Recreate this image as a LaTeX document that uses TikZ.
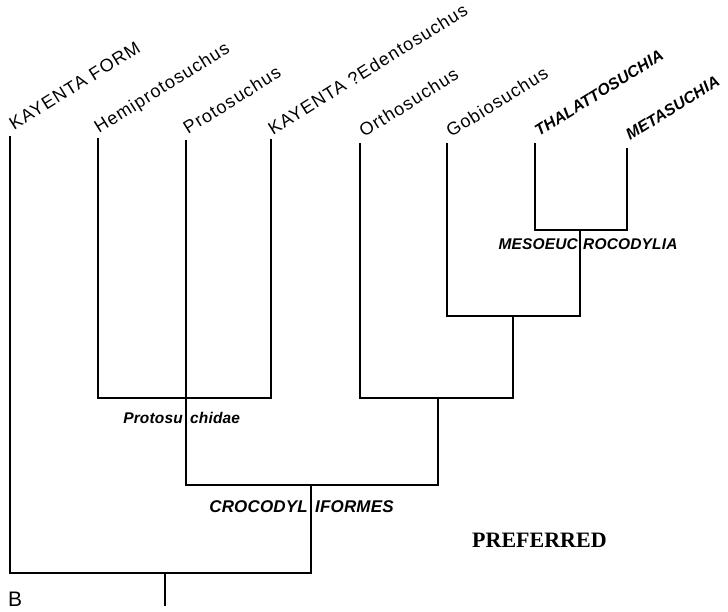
\documentclass[tikz,border=0pt]{standalone}
\usepackage{fontspec}
\setmainfont{Liberation Sans}
\newfontfamily\labfont[LetterSpace=6]{Liberation Sans}
\newfontfamily\cladefont[LetterSpace=1]{Liberation Sans}
\newfontfamily\preffont{Liberation Serif}
\tikzset{
  branch/.style={line width=1.6pt, line join=miter, draw=black},
  leaf/.style={anchor=base west, rotate=32, inner sep=0pt, font=\labfont\fontsize{18}{20}\selectfont},
  leafbi/.style={anchor=base west, rotate=32, inner sep=0pt, font=\cladefont\bfseries\itshape\fontsize{16}{18}\selectfont},
  clade/.style={inner sep=0pt, font=\cladefont\bfseries\itshape\fontsize{15.5}{17}\selectfont},
  bigclade/.style={inner sep=0pt, font=\cladefont\bfseries\itshape\fontsize{17}{19}\selectfont},
}
\begin{document}
\begin{tikzpicture}[x=1pt,y=-1pt]
\path[use as bounding box] (0,0) rectangle (728,611);
% leaf tops
\coordinate (t1) at (10,136);
\coordinate (t2) at (98,138);
\coordinate (t3) at (186,140);
\coordinate (t4) at (271,139);
\coordinate (t5) at (360,143);
\coordinate (t6) at (447,143);
\coordinate (t7) at (535,143);
\coordinate (t8) at (627,148);
% junctions
\coordinate (j78) at (580,230);
\coordinate (j678) at (513,316);
\coordinate (j58) at (438,398);
\coordinate (jp) at (186,398);
\coordinate (jc) at (311,485);
\coordinate (jr) at (165,573);
\coordinate (root) at (165,606);
% branches
\draw[branch] (t7) |- (j78) -| (t8);
\draw[branch] (t6) |- (j678) -| (j78);
\draw[branch] (t5) |- (j58) -| (j678);
\draw[branch] (t2) |- (jp) -| (t4);
\draw[branch] (t3) |- (jc) -| (j58);
\draw[branch] (t1) |- (jr) -| (jc);
\draw[branch] (jr) -- (root);
\draw[line width=2.8pt] (jc) -- (jc |- jr);
% leaf labels
\node[leaf] (n1) at (14,131) {KAYENTA FORM};
\node[leaf] (n2) at (99,134) {Hemiprotosuchus};
\node[leaf] (n3) at (188,135) {Protosuchus};
\node[leaf] (n4) at (273,136) {KAYENTA ?Edentosuchus};
\node[leaf] (n5) at (364,138) {Orthosuchus};
\node[leaf] (n6) at (451,138) {Gobiosuchus};
\node[leafbi] (n7) at (539,137) {THALATTOSUCHIA};
\node[leafbi] (n8) at (630,141) {METASUCHIA};
% clade labels
\node[clade, anchor=base east] (pa) at (183,423) {Protosu};
\node[clade, anchor=base west] (pb) at (190,423) {chidae};
\node[bigclade, anchor=base east] (ca) at (308,512) {CROCODYL};
\node[bigclade, anchor=base west] (cb) at (315,512) {IFORMES};
\node[clade, anchor=base east] (ma) at (578,249) {MESOEUC};
\node[clade, anchor=base west] (mb) at (583,249) {ROCODYLIA};
\node[anchor=base west, inner sep=0pt, font=\preffont\bfseries\fontsize{22}{24}\selectfont] (pref) at (472,547) {PREFERRED};
\node[anchor=base west, inner sep=0pt, font=\fontsize{21}{23}\selectfont] (lb) at (8,606) {B};
\end{tikzpicture}
\end{document}
